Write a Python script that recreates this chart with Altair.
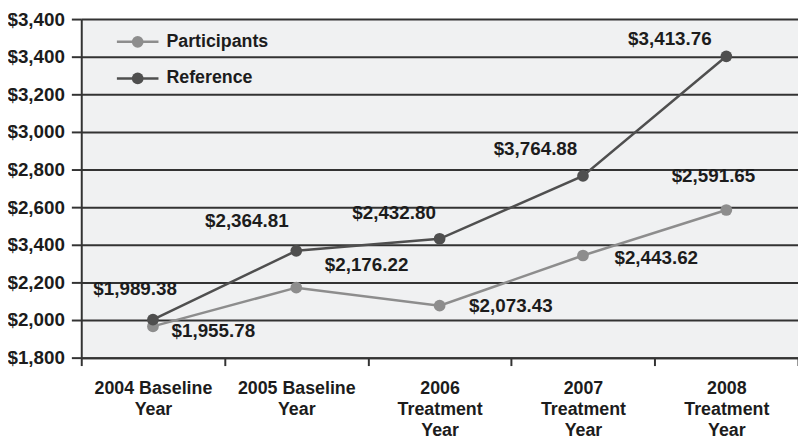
import altair as alt
import pandas as pd

categories = ["2004 Baseline\nYear", "2005 Baseline\nYear", "2006\nTreatment\nYear",
              "2007\nTreatment\nYear", "2008\nTreatment\nYear"]
series = ["Participants", "Reference"]
participants = [1966, 2172, 2076, 2343, 2585]
reference = [2002, 2368, 2432, 2766, 3402]
participants_labels = ["$1,955.78", "$2,176.22", "$2,073.43", "$2,443.62", "$2,591.65"]
reference_labels = ["$1,989.38", "$2,364.81", "$2,432.80", "$3,764.88", "$3,413.76"]
y_ticks = [1800, 2000, 2200, 2400, 2600, 2800, 3000, 3200, 3400, 3600]
y_tick_labels = ["$1,800", "$2,000", "$2,200", "$3,400", "$2,600", "$2,800",
                 "$3,000", "$3,200", "$3,400", "$3,400"]

# styling
colors = ["#8d8d8d", "#4f4f4f"]
FONT = "Liberation Sans, Arial, Helvetica, sans-serif"
DARK = "#333333"
TEXT = "#1c1c1c"
label_offsets = {
    "Participants": [(61, 5), (71, -23), (72, 0), (74, 3), (-13, -34)],
    "Reference": [(-18, -31), (-50, -30), (-46, -26), (-48, -27), (-57, -17)],
}
# legend box layout (pixels inside the plot area)
LEG_X0, LEG_X1, LEG_DOT, LEG_TEXT, LEG_Y0, LEG_STEP = 36, 78, 57, 86, 23, 37

rows = []
for s, vals, labs in [("Participants", participants, participants_labels),
                      ("Reference", reference, reference_labels)]:
    for i, (c, v, l) in enumerate(zip(categories, vals, labs)):
        rows.append({"series": s, "category": c, "value": v, "label": l, "idx": i})
df = pd.DataFrame(rows)
legend_df = pd.DataFrame({"series": series})

label_expr_y = "[" + ",".join("'%s'" % t for t in y_tick_labels) + "][round((datum.value-1800)/200)]"

x_enc = alt.X(
    "category:N",
    scale=alt.Scale(type="band", domain=categories, paddingInner=0, paddingOuter=0),
    axis=alt.Axis(
        title=None, labelAngle=0, labelExpr="split(datum.label, '\\n')",
        labelFont=FONT, labelFontSize=18, labelFontWeight="bold", labelColor=TEXT,
        labelLineHeight=21.5, labelPadding=14, tickBand="extent", tickSize=8,
        tickWidth=2, tickColor=DARK, domainColor=DARK, domainWidth=2, grid=False,
    ),
)
y_enc = alt.Y(
    "value:Q",
    scale=alt.Scale(domain=[1800, 3600], nice=False, zero=False),
    axis=alt.Axis(
        title=None, values=y_ticks, labelExpr=label_expr_y,
        labelFont=FONT, labelFontSize=19, labelFontWeight="bold", labelColor=TEXT,
        labelPadding=7, tickSize=10, tickWidth=2, tickColor=DARK,
        domainColor=DARK, domainWidth=2, grid=True, gridColor=DARK, gridWidth=2,
        gridOpacity=1,
    ),
)
color_scale = alt.Scale(domain=series, range=colors)

base = alt.Chart(df)

lines = base.mark_line(strokeWidth=2.5).encode(
    x=x_enc, y=y_enc, color=alt.Color("series:N", scale=color_scale, legend=None),
)
points = base.mark_point(filled=True, size=140, opacity=1).encode(
    x=x_enc, y=y_enc, color=alt.Color("series:N", scale=color_scale, legend=None),
)

texts = []
for s in series:
    for i in range(len(categories)):
        dx, dy = label_offsets[s][i]
        texts.append(
            base.transform_filter(
                (alt.datum.series == s) & (alt.datum.idx == i)
            ).mark_text(
                dx=dx, dy=dy, font=FONT, fontSize=19, fontWeight="bold", color=TEXT,
                align="center", baseline="middle",
            ).encode(x=x_enc, y=y_enc, text="label:N")
        )

# legend drawn as marks (one row per series)
legend_layers = []
for k, s in enumerate(series):
    ly = LEG_Y0 + k * LEG_STEP
    lb = alt.Chart(legend_df).transform_filter(alt.datum.series == s)
    legend_layers += [
        lb.mark_rule(strokeWidth=2.5, color=colors[k]).encode(
            x=alt.value(LEG_X0), x2=alt.value(LEG_X1), y=alt.value(ly)),
        lb.mark_point(filled=True, size=140, opacity=1, color=colors[k]).encode(
            x=alt.value(LEG_DOT), y=alt.value(ly)),
        lb.mark_text(font=FONT, fontSize=18, fontWeight="bold", color=TEXT,
                     align="left", baseline="middle").encode(
            x=alt.value(LEG_TEXT), y=alt.value(ly), text="series:N"),
    ]

chart = alt.layer(lines, points, *texts, *legend_layers).properties(
    width=724, height=342,
    padding={"left": 74, "top": 9, "right": 0, "bottom": 80},
    autosize=alt.AutoSizeParams(type="none"),
    background="white",
).configure_view(fill="#f0f1f2", stroke=None)

chart.save("out.html", embed_options={"renderer": "svg", "actions": False})
